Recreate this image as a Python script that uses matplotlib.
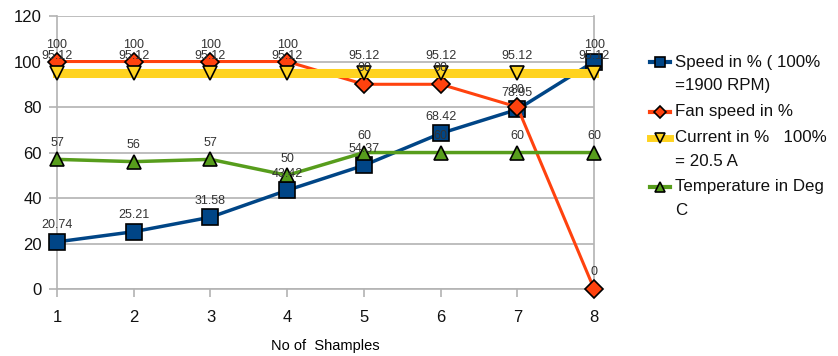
import matplotlib
matplotlib.use("Agg")
import matplotlib.pyplot as plt
from matplotlib.lines import Line2D

plt.rcParams['font.family'] = ['Liberation Sans', 'DejaVu Sans']

samples = [1, 2, 3, 4, 5, 6, 7, 8]
speed = [20.74, 25.21, 31.58, 43.42, 54.37, 68.42, 78.95, 100]
fan_speed = [100, 100, 100, 100, 90, 90, 80, 0]
current = [95.12, 95.12, 95.12, 95.12, 95.12, 95.12, 95.12, 95.12]
temperature = [57, 56, 57, 50, 60, 60, 60, 60]

series = [
    ("Speed in % ( 100%\n=1900 RPM)", speed, "#004586", 2.5, "s", 11.5),
    ("Fan speed in %", fan_speed, "#FF420E", 2.2, "D", 9),
    ("Current in %   100%\n= 20.5 A", current, "#FFD320", 6.5, "v", 10.5),
    ("Temperature in Deg\nC", temperature, "#579D1C", 2.5, "^", 10.5),
]

W, H = 838, 356
fig = plt.figure(figsize=(W / 100, H / 100), dpi=100)
ax = fig.add_axes([0.068, 0.188, 0.641, 0.767])

grid_c = "#b3b3b3"
for i, (name, vals, col, lw, mk, ms) in enumerate(series):
    ax.plot(samples, vals, color=col, lw=lw, marker=mk, markersize=ms,
            markerfacecolor=col, markeredgecolor="black", markeredgewidth=1.2,
            zorder=3 + i, clip_on=False)

for name, vals, col, lw, mk, ms in series:
    for x, v in zip(samples, vals):
        ax.annotate(f"{v:g}", (x, v), xytext=(0, 12), textcoords="offset points",
                    ha="center", va="center", fontsize=9, color="#333333",
                    zorder=10, annotation_clip=False)

ax.set_xlim(1, 8)
ax.set_ylim(0, 120)
ax.set_yticks(range(0, 121, 20))
ax.set_xticks(samples)
ax.yaxis.grid(True, color=grid_c, lw=1.2)
ax.set_axisbelow(True)
ax.spines["top"].set_visible(False)
for s in ["left", "right", "bottom"]:
    ax.spines[s].set_color(grid_c)
    ax.spines[s].set_linewidth(1.2)
ax.tick_params(axis="both", colors=grid_c, width=1.2, length=6, labelcolor="#111111",
               labelsize=12)
ax.tick_params(axis="y", pad=5)
ax.tick_params(axis="x", pad=9)
ax.set_xlabel("No of  Shamples", fontsize=10.5, labelpad=10)

# Legend drawn by hand: key aligned with the first line of each (wrapped) label
line_pitch = 23.5   # px between wrapped lines
entry_gap = 2.5     # extra px between entries
key_x0, key_x1, text_x = 650, 670, 675
y = 62.0
for name, vals, col, lw, mk, ms in series:
    fy = 1 - y / H
    key_lw = 5 if lw > 4 else 3
    fig.add_artist(Line2D([key_x0 / W, key_x1 / W], [fy, fy], color=col, lw=key_lw,
                          transform=fig.transFigure))
    fig.add_artist(Line2D([(key_x0 + key_x1) / 2 / W], [fy], marker=mk,
                          markersize=ms * 0.65, markerfacecolor=col,
                          markeredgecolor="black", markeredgewidth=1.2,
                          linestyle="none", transform=fig.transFigure))
    parts = name.split("\n")
    for k, part in enumerate(parts):
        fig.text(text_x / W, 1 - (y + k * line_pitch) / H, part, fontsize=12.2,
                 ha="left", va="center", color="#111111")
    y += len(parts) * line_pitch + entry_gap

fig.savefig("out.png", dpi=100)
